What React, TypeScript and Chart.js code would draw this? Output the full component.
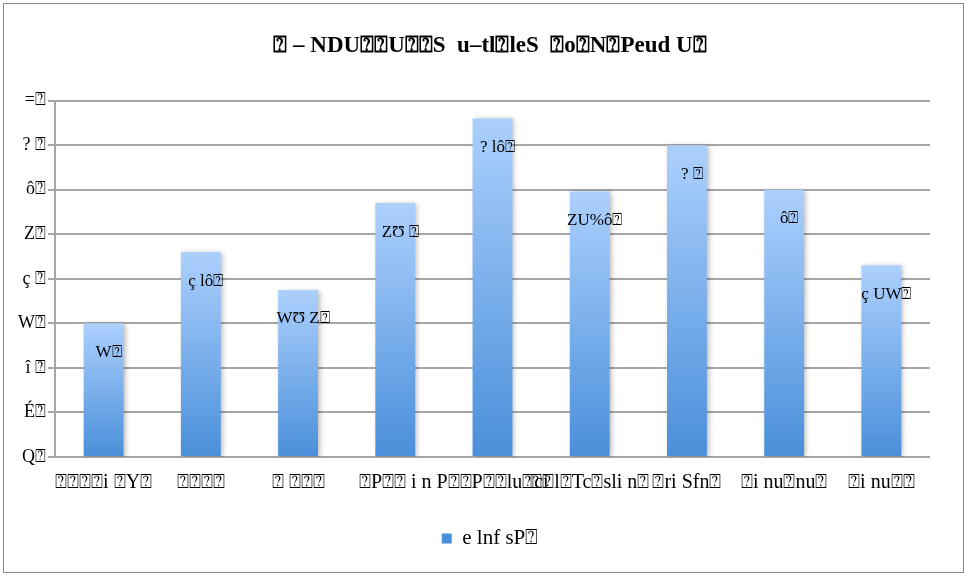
import React, { useEffect, useRef } from "react";
import { Chart, registerables } from "chart.js";

Chart.register(...registerables);

const B = "\u2370";

const categories = [
  `${B}${B}${B}${B}i ${B}Y${B}`,
  `${B}${B}${B}${B}`,
  `${B} ${B}${B}${B}`,
  `${B}P${B}${B} i n`,
  `P${B}${B}P${B}${B}lu${B}ci`,
  `${B}${B}l${B}Tc${B}sli n${B}`,
  `${B}ri Sfn${B}`,
  `${B}i nu${B}nu${B}`,
  `${B}i nu${B}${B}`,
];

const values = [3, 4.6, 3.75, 5.7, 7.6, 5.96, 7, 6, 4.3];

const barLabels = [
  `W${B}`,
  `ç lô${B}`,
  `WƱ Z${B}`,
  `ZƱ ${B}`,
  `? lô${B}`,
  `ZU%ô${B}`,
  `? ${B}`,
  `ô${B}`,
  `ç UW${B}`,
];

const yTickLabels = [
  `Q${B}`,
  `É${B}`,
  `î ${B}`,
  `W${B}`,
  `ç ${B}`,
  `Z${B}`,
  `ô${B}`,
  `? ${B}`,
  `=${B}`,
];

const titleText = `${B} – NDU${B}${B}U${B}${B}S  u–tl${B}leS  ${B}o${B}N${B}Peud U${B}`;
const seriesName = `e lnf sP${B}`;

const SERIF = '"Liberation Serif", "Times New Roman", serif';

export default function App() {
  const ref = useRef<HTMLCanvasElement | null>(null);

  useEffect(() => {
    document.body.style.margin = "0";
    const canvas = ref.current;
    if (!canvas) return;

    const framePlugin = {
      id: "frame",
      beforeDraw(chart: any) {
        const c = chart.ctx;
        c.save();
        c.fillStyle = "#ffffff";
        c.fillRect(0, 0, chart.width, chart.height);
        c.strokeStyle = "#8a8a8a";
        c.lineWidth = 1;
        c.strokeRect(3.5, 3.5, chart.width - 8, chart.height - 7);
        c.restore();
      },
    };

    const barPlugin = {
      id: "barDeco",
      beforeDatasetsDraw(chart: any) {
        const c = chart.ctx;
        c.save();
        c.shadowColor = "rgba(0,0,0,0.28)";
        c.shadowBlur = 5;
        c.shadowOffsetX = 2;
        c.shadowOffsetY = 1;
      },
      afterDatasetsDraw(chart: any) {
        const c = chart.ctx;
        c.restore();
        const meta = chart.getDatasetMeta(0);
        c.save();
        c.font = `17px ${SERIF}`;
        c.fillStyle = "#000";
        c.textAlign = "center";
        c.textBaseline = "middle";
        meta.data.forEach((el: any, i: number) => {
          c.fillText(barLabels[i], el.x + 5, el.y + 29);
        });
        c.restore();
      },
    };

    const chart = new Chart(canvas, {
      type: "bar",
      data: {
        labels: categories,
        datasets: [
          {
            label: seriesName,
            data: values,
            backgroundColor: (ctx: any) => {
              const ch = ctx.chart;
              const { chartArea, scales } = ch;
              if (!chartArea || ctx.type !== "data") return "#86b8f2";
              const top = scales.y.getPixelForValue(ctx.raw);
              const bot = scales.y.getPixelForValue(0);
              const g = ch.ctx.createLinearGradient(0, top, 0, bot);
              g.addColorStop(0, "#acd0fd");
              g.addColorStop(1, "#4a8fda");
              return g;
            },
            borderWidth: 0,
            categoryPercentage: 1,
            barPercentage: 0.41,
          },
        ],
      },
      options: {
        responsive: false,
        animation: false,
        devicePixelRatio: 1,
        layout: { padding: { left: 12, right: 0, top: 0, bottom: 17 } },
        plugins: {
          title: {
            display: true,
            text: titleText,
            color: "#000",
            font: {
              family: '"Liberation Sans Narrow", "Arial Narrow", "Liberation Serif", serif',
              weight: "bold",
              size: 23,
            },
            padding: { top: 32, bottom: 41 },
          },
          legend: {
            display: true,
            position: "bottom",
            labels: {
              boxWidth: 10,
              boxHeight: 10,
              padding: 12,
              color: "#000",
              font: { family: SERIF, size: 21 },
            },
          },
          tooltip: { enabled: false },
        },
        scales: {
          x: {
            grid: { display: false, drawTicks: false },
            border: { display: false },
            ticks: {
              color: "#000",
              font: { family: SERIF, size: 20 },
              maxRotation: 0,
              minRotation: 0,
              autoSkip: false,
              padding: 14,
            },
            afterFit(scale: any) {
              scale.height = 59;
            },
          },
          y: {
            min: 0,
            max: 8,
            grid: {
              color: "#a6a6a6",
              lineWidth: 2,
              tickLength: 7,
            },
            border: { display: true, color: "#a6a6a6", width: 2 },
            ticks: {
              stepSize: 1,
              color: "#000",
              padding: 2,
              font: { family: SERIF, size: 18 },
              callback: (v: any) => yTickLabels[Math.round(Number(v))] ?? "",
            },
            afterFit(scale: any) {
              scale.width = 43;
            },
          },
          yRight: {
            type: "linear",
            position: "right",
            display: true,
            grid: { display: false, drawTicks: false },
            border: { display: false },
            ticks: { display: false },
            afterFit(scale: any) {
              scale.width = 38;
            },
          },
        },
      },
      plugins: [framePlugin, barPlugin],
    });

    return () => chart.destroy();
  }, []);

  return (
    <div style={{ position: "absolute", left: 0, top: 0, width: 968, height: 576 }}>
      <canvas ref={ref} width={968} height={576} />
    </div>
  );
}
